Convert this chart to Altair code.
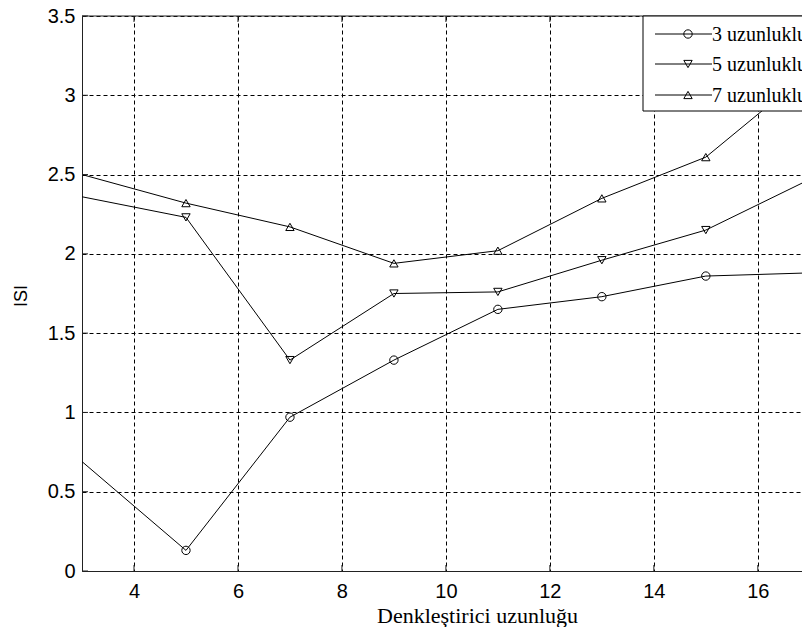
import altair as alt
import pandas as pd

# ---- data ----
x_vals = [3, 5, 7, 9, 11, 13, 15, 17]
isi_3 = [0.69, 0.13, 0.97, 1.33, 1.65, 1.73, 1.86, 1.88]
isi_5 = [2.36, 2.23, 1.33, 1.75, 1.76, 1.96, 2.15, 2.47]
isi_7 = [2.50, 2.32, 2.17, 1.94, 2.02, 2.35, 2.61, 3.15]
series_names = ["3 uzunluklu kanal", "5 uzunluklu kanal", "7 uzunluklu kanal"]
series_shapes = ["circle", "triangle-down", "triangle-up"]
x_ticks = [4, 6, 8, 10, 12, 14, 16]
y_ticks = [0, 0.5, 1, 1.5, 2, 2.5, 3, 3.5]
x_domain = [3, 16.85]   # the reference is cropped just before x = 17
y_domain = [0, 3.5]

W, H = 720, 555
SANS = "Liberation Sans Narrow, Liberation Sans, Arial, sans-serif"
SERIF = "Liberation Serif, Times New Roman, serif"

rows = []
for name, vals in zip(series_names, [isi_3, isi_5, isi_7]):
    for xv, yv in zip(x_vals, vals):
        rows.append({"x": xv, "y": yv, "series": name})
df = pd.DataFrame(rows)

xs = alt.Scale(domain=x_domain, nice=False, zero=False)
ys = alt.Scale(domain=y_domain, nice=False, zero=False)

x_axis = alt.Axis(values=x_ticks, title="Denkleştirici uzunluğu", grid=True,
                  gridDash=[4, 3], gridColor="black", gridOpacity=1, gridWidth=1,
                  ticks=False, domainColor="#222", domainWidth=1,
                  labelFont=SANS, labelFontSize=20, labelColor="black",
                  labelPadding=10, format="~g",
                  titleFont=SERIF, titleFontSize=22, titleFontWeight="normal",
                  titleColor="black", titleX=395, titleY=44,
                  titleAlign="center", titleBaseline="middle")
y_axis = alt.Axis(values=y_ticks, title="ISI", grid=True,
                  gridDash=[4, 3], gridColor="black", gridOpacity=1, gridWidth=1,
                  ticks=False, domainColor="#222", domainWidth=1,
                  labelFont=SANS, labelFontSize=20, labelColor="black",
                  labelPadding=7, format="~g",
                  titleFont=SANS, titleFontSize=18, titleFontWeight="normal",
                  titleColor="black", titleX=-61, titleY=H / 2 + 2,
                  titleAlign="center", titleBaseline="middle", titleAngle=270)

lines = alt.Chart(df).mark_line(color="black", strokeWidth=1, clip=True).encode(
    x=alt.X("x:Q", scale=xs, axis=x_axis),
    y=alt.Y("y:Q", scale=ys, axis=y_axis),
    detail="series:N",
)

points = alt.Chart(df).transform_filter(alt.datum.x > 3).mark_point(
    filled=False, stroke="black", strokeWidth=1, size=70, clip=True, opacity=1
).encode(
    x=alt.X("x:Q", scale=xs),
    y=alt.Y("y:Q", scale=ys),
    shape=alt.Shape("series:N", scale=alt.Scale(domain=series_names, range=series_shapes), legend=None),
)

# inward ticks (MATLAB style)
xt = pd.DataFrame({"x": x_ticks})
yt = pd.DataFrame({"y": y_ticks})
tick_bottom = alt.Chart(xt).mark_rule(color="#222", strokeWidth=1).encode(
    x=alt.X("x:Q", scale=xs), y=alt.value(H), y2=alt.value(H - 6))
tick_top = alt.Chart(xt).mark_rule(color="#222", strokeWidth=1).encode(
    x=alt.X("x:Q", scale=xs), y=alt.value(0), y2=alt.value(6))
tick_left = alt.Chart(yt).mark_rule(color="#222", strokeWidth=1).encode(
    y=alt.Y("y:Q", scale=ys), x=alt.value(0), x2=alt.value(6))

one = pd.DataFrame({"a": [0]})
top_border = alt.Chart(one).mark_rule(color="#222", strokeWidth=1).encode(
    x=alt.value(0), x2=alt.value(W + 10), y=alt.value(0))

# legend box (cropped at right edge, as in the reference)
leg_box = alt.Chart(one).mark_rect(fill="white", stroke="black", strokeWidth=1).encode(
    x=alt.value(561), x2=alt.value(W + 40), y=alt.value(0), y2=alt.value(95))

legend_layers = [leg_box]
row_y = [18, 48, 79]
for name, shp, ry in zip(series_names, series_shapes, row_y):
    d = pd.DataFrame({"label": [name]})
    legend_layers.append(alt.Chart(d).mark_rule(color="black", strokeWidth=1).encode(
        x=alt.value(573), x2=alt.value(630), y=alt.value(ry)))
    legend_layers.append(alt.Chart(d).mark_point(
        filled=False, stroke="black", strokeWidth=1, size=70, shape=shp, opacity=1
    ).encode(x=alt.value(606), y=alt.value(ry)))
    legend_layers.append(alt.Chart(d).mark_text(
        font=SERIF, fontSize=20, color="black", align="left", baseline="middle"
    ).encode(x=alt.value(630), y=alt.value(ry + 1), text="label:N"))

chart = alt.layer(
    lines, points, tick_bottom, tick_top, tick_left, top_border, *legend_layers
).properties(
    width=W, height=H,
    autosize=alt.AutoSizeParams(type="none"),
    padding={"left": 74, "top": 8, "right": 0, "bottom": 56},
    background="white",
).configure_view(stroke=None)

chart.save("out.html", embed_options={"renderer": "svg", "actions": False})
